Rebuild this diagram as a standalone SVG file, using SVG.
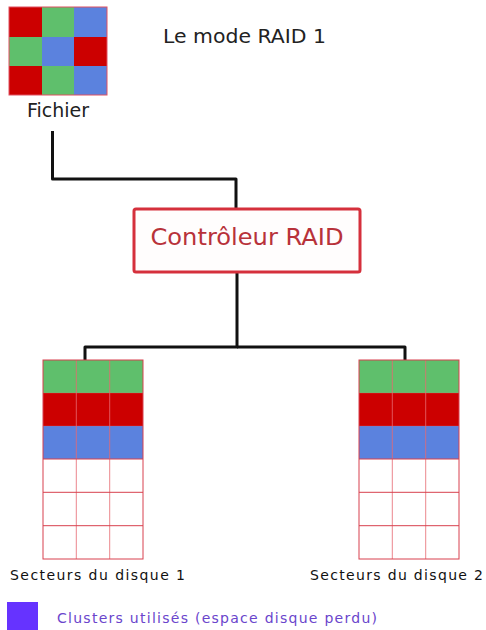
<svg xmlns="http://www.w3.org/2000/svg" width="486" height="630" viewBox="0 0 486 630">
<style>
.r{fill:#cc0000}.g{fill:#5fbf6c}.b{fill:#5b82de}
.lbl{font-family:"DejaVu Sans",Verdana,sans-serif}
.wire{fill:none;stroke:#111;stroke-width:3;stroke-linejoin:round}
.grid{stroke:#d8404e;stroke-width:1;fill:none}
</style>
<rect width="486" height="630" fill="#ffffff"/>
<g id="fichier">
<rect class="r" x="9" y="7" width="33" height="30"/>
<rect class="g" x="42" y="7" width="32" height="30"/>
<rect class="b" x="74" y="7" width="33" height="30"/>
<rect class="g" x="9" y="37" width="33" height="29"/>
<rect class="b" x="42" y="37" width="32" height="29"/>
<rect class="r" x="74" y="37" width="33" height="29"/>
<rect class="r" x="9" y="66" width="33" height="29"/>
<rect class="g" x="42" y="66" width="32" height="29"/>
<rect class="b" x="74" y="66" width="33" height="29"/>
<rect x="9" y="7" width="98" height="88" fill="none" stroke="#e05060" stroke-width="1"/>
<text class="lbl" x="58" y="117" font-size="19" text-anchor="middle" fill="#222">Fichier</text>
</g>
<g id="titre">
<text class="lbl" x="163" y="43" font-size="20" fill="#222" textLength="163" lengthAdjust="spacingAndGlyphs">Le mode RAID 1</text>
</g>
<g id="connecteurs">
<polyline class="wire" points="52.5,131 52.5,179 236,179 236,208"/>
<polyline class="wire" points="237,273 237,347 85,347 85,360"/>
<polyline class="wire" points="237,347 405,347 405,360"/>
</g>
<g id="controleur">
<rect x="134" y="209" width="226" height="63" rx="2" fill="#fffdfd" stroke="#d5303c" stroke-width="3"/>
<text class="lbl" x="247" y="245" font-size="23" text-anchor="middle" fill="#b8323a" textLength="193" lengthAdjust="spacingAndGlyphs">Contrôleur RAID</text>
</g>
<g id="disque1">
<rect class="g" x="43" y="360" width="100" height="33"/>
<rect class="r" x="43" y="393" width="100" height="33"/>
<rect class="b" x="43" y="426" width="100" height="33"/>
<rect x="43" y="459" width="100" height="100" fill="#fff"/>
<path d="M76.3,360V559M109.7,360V559" stroke="#e86a72" stroke-width="1" opacity="0.8"/>
<path d="M43,393H143M43,426H143" stroke="#e86a72" stroke-width="0.6" opacity="0.5"/>
<path class="grid" d="M43,459H143M43,492.3H143M43,525.7H143"/>
<rect class="grid" x="43" y="360" width="100" height="199"/>
<text class="lbl" x="10" y="580" font-size="14" fill="#111" textLength="175" lengthAdjust="spacing">Secteurs du disque 1</text>
</g>
<g id="disque2">
<rect class="g" x="359" y="360" width="100" height="33"/>
<rect class="r" x="359" y="393" width="100" height="33"/>
<rect class="b" x="359" y="426" width="100" height="33"/>
<rect x="359" y="459" width="100" height="100" fill="#fff"/>
<path d="M392.3,360V559M425.7,360V559" stroke="#e86a72" stroke-width="1" opacity="0.8"/>
<path d="M359,393H459M359,426H459" stroke="#e86a72" stroke-width="0.6" opacity="0.5"/>
<path class="grid" d="M359,459H459M359,492.3H459M359,525.7H459"/>
<rect class="grid" x="359" y="360" width="100" height="199"/>
<text class="lbl" x="310" y="580" font-size="14" fill="#111" textLength="173" lengthAdjust="spacing">Secteurs du disque 2</text>
</g>
<g id="legende">
<rect x="7" y="602" width="31" height="28" fill="#6633ff"/>
<text class="lbl" x="57" y="623" font-size="14" fill="#6a45cc" textLength="320" lengthAdjust="spacing">Clusters utilisés (espace disque perdu)</text>
</g>
</svg>
